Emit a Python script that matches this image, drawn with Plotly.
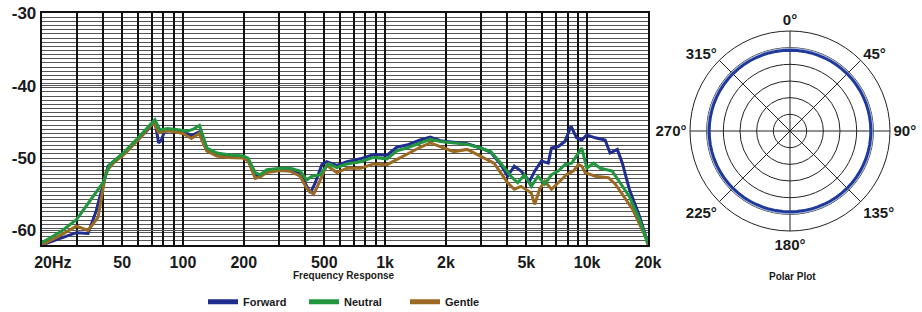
import numpy as np
import plotly.graph_objects as go

# ---------------- data ----------------
forward_hz = [20, 25, 29.7, 33.9, 37.2, 42.6, 46, 51.5, 60, 66, 72.6, 75.8, 78, 81, 90, 100, 110, 120,
              131, 147, 165, 198, 210, 228, 241, 260, 303, 339, 380, 410, 427, 450, 487, 514, 577, 648,
              755, 878, 1023, 1143, 1281, 1492, 1673, 1876, 2185, 2549, 2970, 3333, 3740, 4040, 4360,
              4710, 5190, 5500, 5940, 6420, 6660, 7190, 7760, 8320, 8870, 9400, 9960, 10960, 12270,
              12980, 14100, 14930, 16170, 18140, 20000]
forward_db = [-62.0, -61.0, -60.3, -60.4, -57.3, -51.1, -50.3, -49.2, -47.4, -46.3, -44.9, -47.9, -47.6,
              -46.3, -46.2, -46.3, -46.9, -46.4, -48.8, -49.5, -49.6, -49.8, -50.2, -52.4, -52.4, -51.8,
              -51.5, -51.5, -52.2, -54.0, -54.8, -53.5, -50.9, -50.5, -51.0, -50.5, -50.1, -49.5, -49.6,
              -48.5, -48.2, -47.5, -47.1, -47.6, -47.8, -48.0, -48.6, -49.2, -50.9, -52.5, -51.1, -51.8,
              -53.2, -51.8, -50.4, -50.7, -48.6, -48.4, -47.7, -45.6, -47.2, -47.5, -46.8, -47.2, -47.5,
              -49.3, -48.8, -50.7, -54.3, -58.0, -61.8]

neutral_hz = [20, 25, 29.7, 34, 40.2, 43.4, 51.5, 60, 72.6, 76.8, 84, 96.8, 104.5, 112.6, 120.7, 131.5,
              147.5, 164.7, 198.5, 210, 228, 241, 260, 303, 339, 380, 410, 435, 477, 500, 527, 577, 648,
              755, 878, 1023, 1143, 1281, 1492, 1673, 1876, 2185, 2549, 2970, 3333, 3740, 4196, 4532,
              4890, 5290, 5710, 6165, 6660, 7190, 7760, 8380, 8870, 9400, 9960, 10760, 11620, 13300,
              14380, 16170, 18140, 20000]
neutral_db = [-61.7, -60.1, -58.5, -56.3, -53.4, -50.9, -49.1, -47.2, -44.7, -46.1, -45.9, -46.1, -46.3,
              -46.0, -45.5, -48.6, -49.3, -49.5, -49.7, -50.0, -52.0, -52.3, -51.6, -51.4, -51.4, -51.8,
              -53.0, -52.5, -52.3, -51.5, -50.8, -51.3, -50.8, -50.5, -49.9, -50.1, -49.0, -48.6, -47.9,
              -47.4, -47.7, -47.9, -48.1, -48.6, -49.1, -50.7, -52.5, -53.4, -52.3, -53.9, -52.5, -53.6,
              -52.3, -51.8, -50.9, -50.7, -49.7, -48.6, -51.4, -50.7, -51.4, -51.8, -53.2, -55.3, -58.5,
              -61.8]

gentle_hz = [20, 25, 29.7, 33.9, 38, 41.7, 46, 51.5, 60, 71.5, 76, 84, 100, 110, 120, 131, 147, 165, 198,
             210, 228, 241, 260, 303, 339, 380, 410, 443, 470, 514, 577, 648, 755, 878, 1023, 1143, 1281,
             1492, 1673, 1876, 2185, 2549, 2970, 3460, 4040, 4360, 4710, 5290, 5500, 5820, 6165, 6660,
             7190, 7900, 8550, 9050, 9400, 9770, 10960, 12740, 13790, 14930, 16800, 19400, 20000]
gentle_db = [-62.0, -60.6, -59.4, -60.0, -58.2, -51.8, -50.5, -49.4, -47.5, -45.1, -46.5, -46.2, -46.6,
             -47.3, -46.6, -49.0, -49.7, -49.9, -50.0, -50.4, -52.8, -52.6, -52.0, -51.7, -51.8, -52.5,
             -54.2, -55.0, -53.5, -51.0, -52.0, -51.4, -51.4, -50.8, -50.9, -50.2, -49.5, -48.5, -47.9,
             -48.4, -49.1, -48.8, -49.7, -50.7, -53.4, -54.3, -53.9, -54.8, -56.4, -54.3, -53.2, -54.3,
             -53.4, -52.3, -51.8, -50.9, -51.1, -52.0, -52.5, -52.7, -53.6, -55.0, -57.1, -60.8, -62.0]

grid_hz = [20, 30, 40, 50, 60, 70, 80, 90, 100, 200, 300, 400, 500, 600, 700, 800, 900, 1000,
           2000, 3000, 4000, 5000, 6000, 7000, 8000, 9000, 10000, 20000]
grid_labels = {20: "\u00a0\u00a0\u00a0\u00a0\u00a020Hz", 50: "50", 100: "100", 200: "200", 500: "500",
               1000: "1k", 2000: "2k", 5000: "5k", 10000: "10k", 20000: "20k"}
db_ticks = [-30, -40, -50, -60]

polar_angles = [0, 45, 90, 135, 180, 225, 270, 315]
polar_labels = ["0°", "45°", "90°", "135°", "180°", "225°", "270°", "315°"]
polar_theta = list(range(0, 361, 5))
polar_r = [4.85] * len(polar_theta)

series = [("Forward", forward_hz, forward_db, "#1f2d8f"),
          ("Gentle", gentle_hz, gentle_db, "#9b6a22"),
          ("Neutral", neutral_hz, neutral_db, "#22963e")]
legend_order = ["Forward", "Neutral", "Gentle"]

FONT = "Liberation Sans, Arial, sans-serif"
TXT = "#1a1a1a"
W, H = 922, 312


def px(x):
    return x / W


def py(y):
    return 1 - y / H


fig = go.Figure()
for name, hz, db, col in series:
    fig.add_trace(go.Scatter(x=hz, y=db, mode="lines", name=name, showlegend=False,
                             line=dict(color=col, width=3)))
colmap = {n: c for n, _, _, c in series}
for name in legend_order:
    fig.add_trace(go.Scatter(x=[None], y=[None], mode="lines", name=name, showlegend=True,
                             line=dict(color=colmap[name], width=5)))

# polar
fig.add_trace(go.Scatterpolar(r=[v + 0.12 for v in polar_r], theta=polar_theta, mode="lines",
                              line=dict(color="#a9bde0", width=1), showlegend=False))
fig.add_trace(go.Scatterpolar(r=polar_r, theta=polar_theta, mode="lines",
                              line=dict(color="#1f3a9a", width=3), showlegend=False))

fig.update_layout(
    width=W, height=H, margin=dict(l=0, r=0, t=0, b=0, autoexpand=False),
    paper_bgcolor="white", plot_bgcolor="white",
    font=dict(family=FONT, color=TXT),
    xaxis=dict(type="log", range=[np.log10(20), np.log10(20000)],
               domain=[px(41.7), px(648)], automargin=False, ticklabeloverflow="allow",
               tickvals=grid_hz, ticktext=[grid_labels.get(v, "") for v in grid_hz],
               showgrid=True, gridcolor="#111", gridwidth=1.5,
               showline=True, linecolor="#111", linewidth=2, mirror=True,
               ticks="", ticklabelstandoff=2,
               tickfont=dict(size=16, family=FONT, weight="bold", color=TXT),
               zeroline=False),
    yaxis=dict(range=[-62, -30], domain=[py(245), py(13.3)], automargin=False, ticklabeloverflow="allow",
               tickvals=db_ticks, ticktext=[str(v) for v in db_ticks],
               showgrid=True, gridcolor="#555", gridwidth=1,
               minor=dict(dtick=32 / 56, tick0=-30, showgrid=True, gridcolor="#555", gridwidth=1),
               showline=True, linecolor="#111", linewidth=2, mirror=True,
               ticks="", tickfont=dict(size=17, family=FONT, weight="bold", color=TXT),
               zeroline=False),
    polar=dict(
        domain=dict(x=[px(690), px(890)], y=[py(231), py(31)]),
        bgcolor="white",
        radialaxis=dict(range=[0, 6], tickvals=[1, 2, 3, 4, 5, 6], showticklabels=False, ticks="",
                        showline=False, gridcolor="#222", gridwidth=1),
        angularaxis=dict(rotation=90, direction="clockwise", tickvals=polar_angles, ticktext=polar_labels,
                         showline=True, linecolor="#222", linewidth=1, gridcolor="#222", gridwidth=1,
                         ticks="", tickfont=dict(size=15, family=FONT, weight="bold", color=TXT)),
    ),
    legend=dict(orientation="h", x=px(203), y=py(301.7), xanchor="left", yanchor="middle",
                font=dict(size=11, family=FONT, weight="bold", color=TXT),
                entrywidth=56, entrywidthmode="pixels", bgcolor="rgba(0,0,0,0)"),
    annotations=[
        dict(text="Frequency Response", x=px(343.5), y=py(275), xref="paper", yref="paper",
             xanchor="center", yanchor="middle",
             showarrow=False, font=dict(size=10, family=FONT, weight="bold", color=TXT)),
        dict(text="Polar Plot", x=px(792), y=py(276), xref="paper", yref="paper",
             xanchor="center", yanchor="middle",
             showarrow=False, font=dict(size=10, family=FONT, weight="bold", color=TXT)),
    ],
)

fig.write_html("out.html", config={"displayModeBar": False},
               post_script="document.body.style.margin='0';document.body.style.overflow='hidden';")
